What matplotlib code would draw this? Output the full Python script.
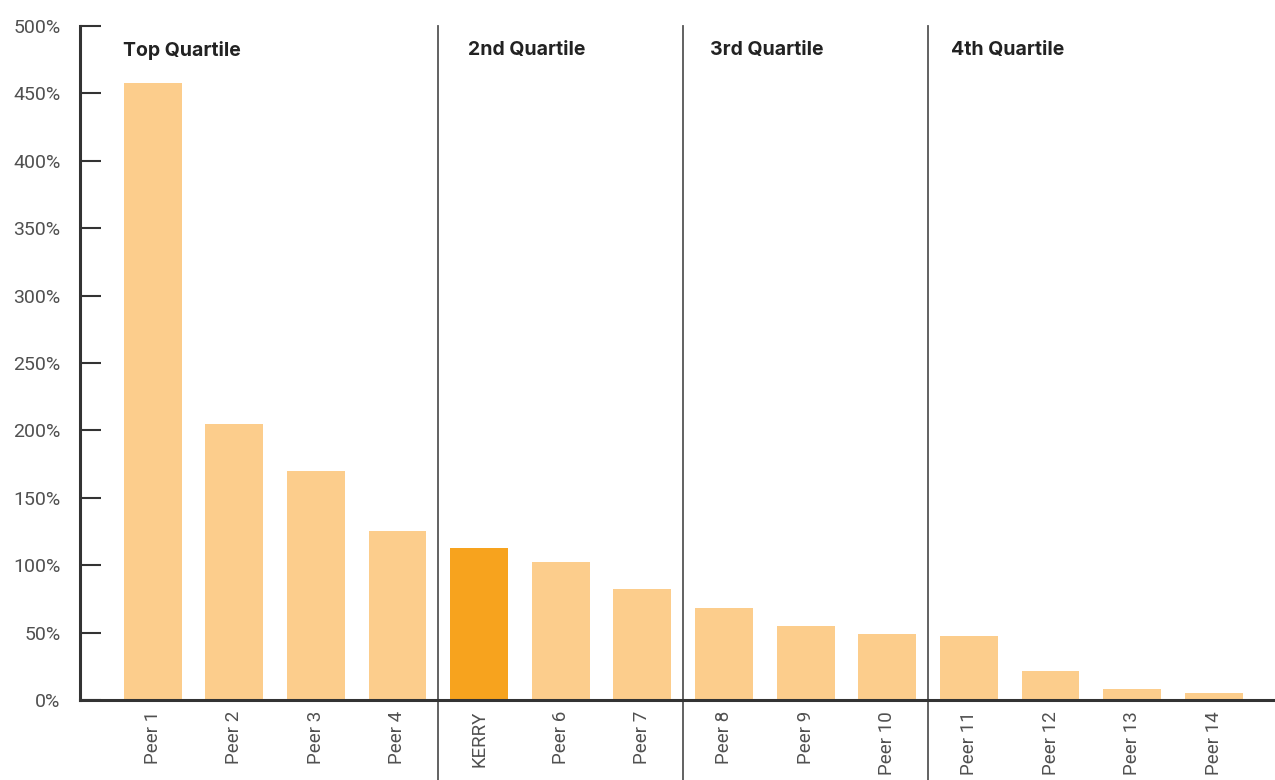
import matplotlib
matplotlib.use("Agg")
from matplotlib import pyplot as plt
from matplotlib.ticker import MultipleLocator, FuncFormatter

labels = ["Peer 1", "Peer 2", "Peer 3", "Peer 4", "KERRY", "Peer 6", "Peer 7",
          "Peer 8", "Peer 9", "Peer 10", "Peer 11", "Peer 12", "Peer 13", "Peer 14"]
values = [458, 205, 170, 125, 113, 102, 82, 68, 55, 49, 47.5, 21.5, 8, 5]
highlight = "KERRY"
quartiles = ["Top Quartile", "2nd Quartile", "3rd Quartile", "4th Quartile"]
quartile_breaks = [3.5, 6.5, 9.5]

plt.rcParams['font.family'] = ['Roboto', 'DejaVu Sans']

fig = plt.figure(figsize=(12.75, 7.8), dpi=100)
ax = fig.add_axes([0.0627, 0.1026, 0.9373, 0.8641])

colors = ['#f7a31e' if l == highlight else '#fccd8c' for l in labels]
x = list(range(len(labels)))
ax.bar(x, values, width=0.71, color=colors, zorder=2)

ax.set_xlim(-0.89, 13.75)
ax.set_ylim(0, 500)
ax.yaxis.set_major_locator(MultipleLocator(50))
ax.yaxis.set_major_formatter(FuncFormatter(lambda v, p: f"{v:.0f}%"))
ax.tick_params(axis='y', direction='in', length=15, width=1.5, color='#333333',
               labelsize=14, labelcolor='#505050', pad=14)
ax.set_xticks(x)
ax.set_xticklabels(labels, rotation=90, fontsize=13.5, color='#505050')
ax.tick_params(axis='x', length=0, pad=8)

for s in ['top', 'right']:
    ax.spines[s].set_visible(False)
for s in ['left', 'bottom']:
    ax.spines[s].set_linewidth(2.2)
    ax.spines[s].set_color('#333333')
ax.spines['bottom'].set_zorder(3)

for b in quartile_breaks:
    ax.axvline(b, ymin=-0.14, ymax=1, color='#555555', linewidth=1.3, clip_on=False, zorder=1)

for qx, q in zip([-0.36, 3.86, 6.83, 9.78], quartiles):
    ax.text(qx, 482, q, fontsize=14, fontweight='bold', color='#222222', va='center', ha='left',
            family=['Inter', 'DejaVu Sans'])

fig.savefig("out.png", dpi=100)
